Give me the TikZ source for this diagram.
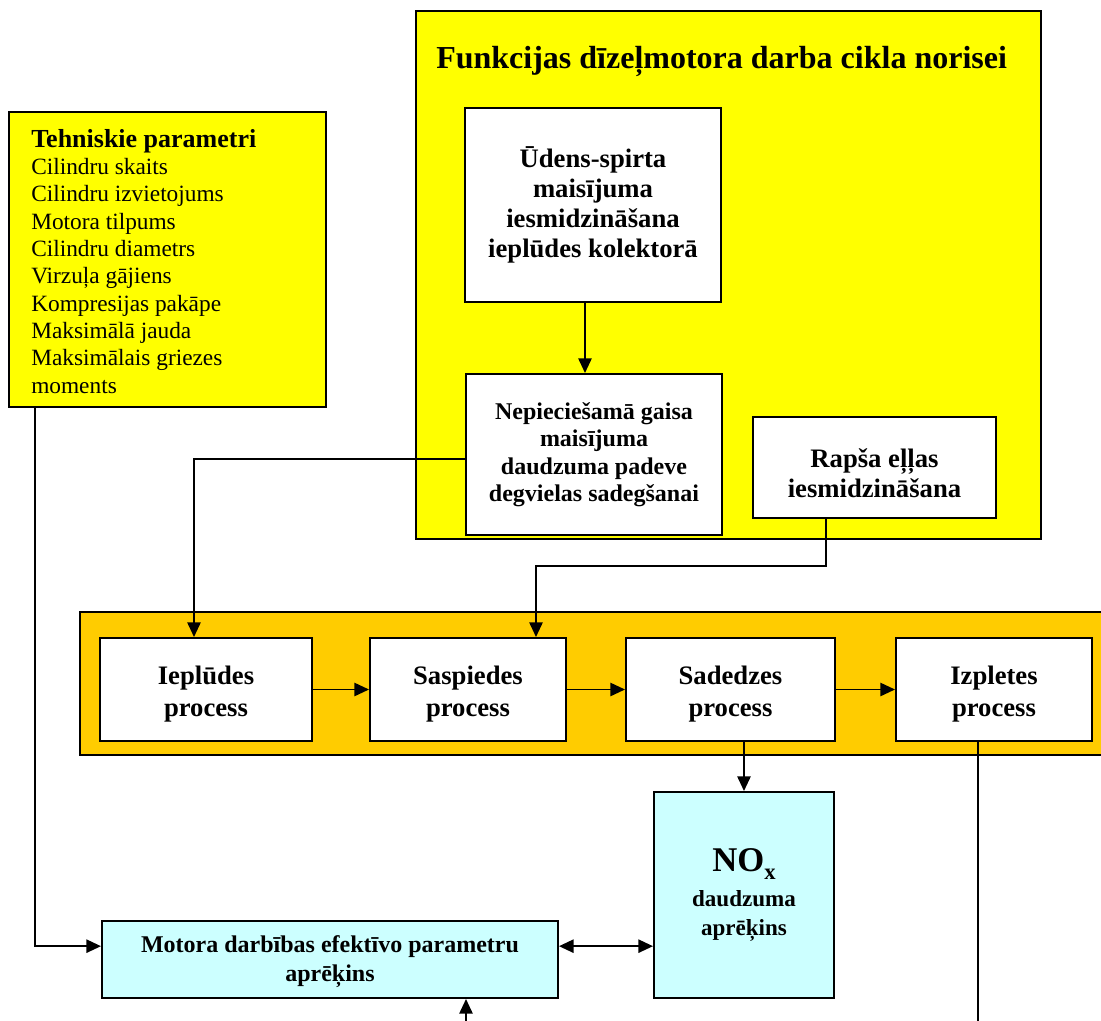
\documentclass[tikz,border=0pt]{standalone}
\usepackage{fontspec}
\setmainfont{Liberation Serif}
\usetikzlibrary{arrows.meta,fit}
\definecolor{panelyellow}{HTML}{FFFF00}
\definecolor{bandorange}{HTML}{FFCC00}
\definecolor{calccyan}{HTML}{CCFFFF}
\newcommand{\fsz}[2]{\fontsize{#1}{#2}\selectfont}
% invisible strut that sets the height of a first text line
\newcommand{\firstline}[1]{\rule{0pt}{#1}}

\begin{document}
\begin{tikzpicture}[x=0.75pt,y=-0.75pt,
  frame/.style={draw=black,line width=1.5pt,inner sep=0pt},
  box/.style={frame,fill=white,align=center,font=\bfseries},
  size/.style 2 args={minimum width=#1*0.75pt,minimum height=#2*0.75pt},
  procbox/.style={box,size={#1}{103},font=\fsz{20}{24}\bfseries},
  wire/.style={line width=1.25pt},
  arr/.style={wire,-{Triangle[length=11pt,width=10pt]}},
  dblarr/.style={wire,{Triangle[length=11pt,width=10pt]}-{Triangle[length=11pt,width=10pt]}},
]
\useasboundingbox (0,0) rectangle (1101,1021);
\clip (0,0) rectangle (1101,1021);

% container panels
\node[frame,fill=panelyellow,fit={(416,11)(1041,539)}] (funk) {};
\node[anchor=base west,inner sep=0pt,font=\fsz{24}{28}\bfseries] (funktitle) at (436,68)
  {Funkcijas dīzeļmotora darba cikla norisei};
\node[frame,fill=bandorange,fit={(80,612)(1125,755)}] (band) {};

% technical parameters
\node[frame,fill=panelyellow,fit={(9,112)(326,407)}] (teh) {};
\node[anchor=north west,inner sep=0pt,align=left,font=\fsz{17.5}{20.5}] (tehtxt) at (31,129)
  {{\bfseries\fsz{19.5}{20.5}Tehniskie parametri}\\
   Cilindru skaits\\
   Cilindru izvietojums\\
   Motora tilpums\\
   Cilindru diametrs\\
   Virzuļa gājiens\\
   Kompresijas pakāpe\\
   Maksimālā jauda\\
   Maksimālais griezes\\
   moments};

% cycle functions
\node[box,size={256}{194},font=\fsz{20}{22.5}\bfseries] (ud) at (593,205)
  {Ūdens-spirta\\ maisījuma\\ iesmidzināšana\\ ieplūdes kolektorā};
\node[box,size={256}{161},font=\fsz{18}{20.6}\bfseries] (nep) at (594,454.5)
  {Nepieciešamā gaisa\\ maisījuma\\ daudzuma padeve\\ degvielas sadegšanai};
\node[box,size={243}{101},font=\fsz{20}{22.5}\bfseries] (rap) at (874.5,467.5)
  {\firstline{22pt}Rapša eļļas\\ iesmidzināšana};

% engine processes
\node[procbox=212] (p1) at (206,689.5) {\firstline{20pt}Ieplūdes\\ process};
\node[procbox=196] (p2) at (468,689.5) {\firstline{20pt}Saspiedes\\ process};
\node[procbox=209] (p3) at (730.5,689.5) {\firstline{20pt}Sadedzes\\ process};
\node[procbox=196] (p4) at (994,689.5) {\firstline{20pt}Izpletes\\ process};

% calculation blocks
\node[box,fill=calccyan,size={180}{206},font=\fsz{17.3}{22}\bfseries] (nox) at (744,895)
  {{\fsz{26}{28}NO\raisebox{-0.22em}{\fsz{17}{17}x}}\\[4pt] daudzuma\\ aprēķins};
\node[box,fill=calccyan,size={456}{77},font=\fsz{18}{21.5}\bfseries] (mot) at (330,959.5)
  {\firstline{16pt}Motora darbības efektīvo parametru\\ aprēķins};

% connectors
\draw[arr] ([xshift=-6pt]ud.south) -- ([xshift=-6pt]ud.south |- nep.north);
\draw[arr] ([yshift=-3.5pt]nep.west) -| ([xshift=-9pt]p1.north);
\coordinate (j2) at (600,566);
\draw[arr] ([xshift=-36.5pt]rap.south) -- ([xshift=-36.5pt]rap.south |- j2)
  -| ([xshift=51pt]p2.north);
\draw[arr] (p1.east) -- (p2.west);
\draw[arr] (p2.east) -- (p3.west);
\draw[arr] (p3.east) -- (p4.west);
\draw[arr] (p3.south -| nox.north) -- (nox.north);
\coordinate (e4) at (978,1030);
\draw[wire] (p4.south -| e4) -- (e4);
\draw[arr] ([xshift=-99.5pt]teh.south) |- ([yshift=10pt]mot.west);
\draw[dblarr] ([yshift=10pt]mot.east) -- ([yshift=10pt]mot.east -| nox.west);
\coordinate (b0) at (466,1030);
\draw[arr] (b0) -- (b0 |- mot.south);
\end{tikzpicture}
\end{document}
